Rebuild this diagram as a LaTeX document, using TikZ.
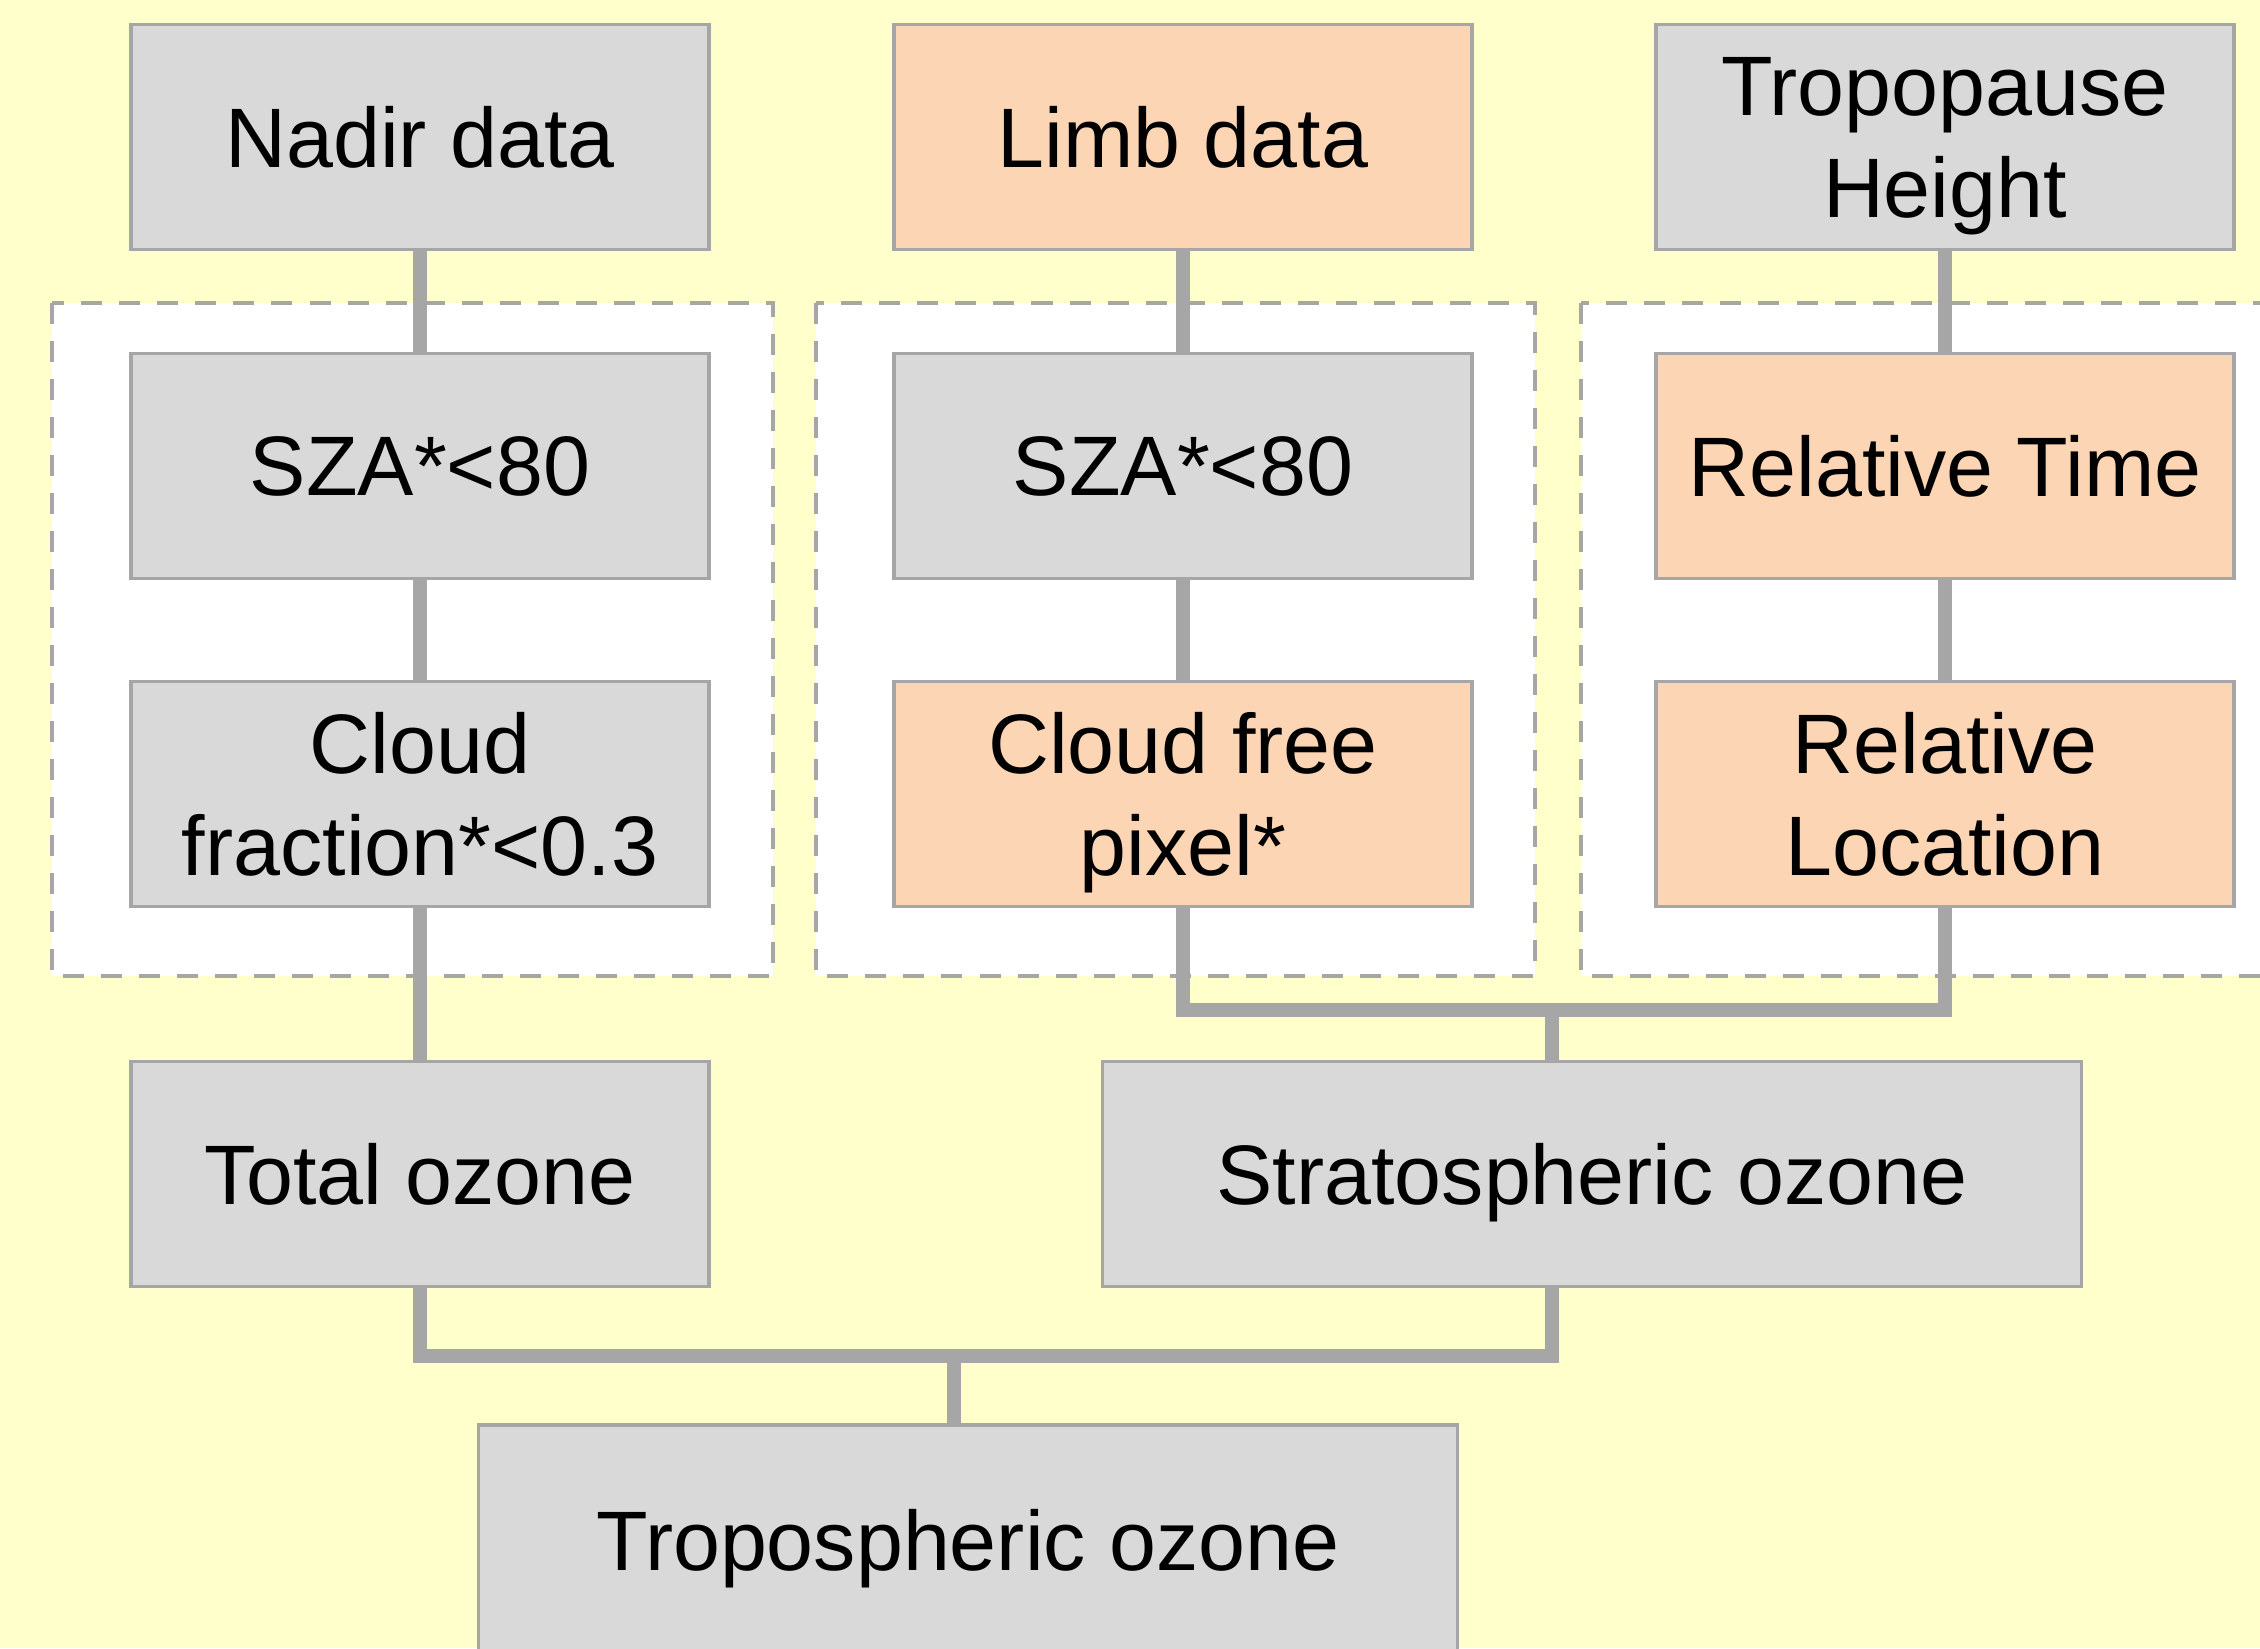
\documentclass[tikz,border=0pt]{standalone}
\usepackage{fontspec}
\setmainfont{Liberation Sans}
\definecolor{bgyellow}{HTML}{FFFFCC}
\definecolor{boxgray}{HTML}{D9D9D9}
\definecolor{boxtan}{HTML}{FCD5B4}
\definecolor{edgegray}{HTML}{A6A6A6}
\begin{document}
\begin{tikzpicture}[x=0.01cm,y=-0.01cm,
  box/.style={draw=edgegray,line width=1pt,fill=boxgray,align=center,
    minimum width=5.78cm,minimum height=2.25cm,inner sep=0pt,text depth=0pt,
    font=\fontsize{24}{29}\selectfont},
  tanbox/.style={box,fill=boxtan},
  widebox/.style={box,minimum width=9.78cm},
  group/.style={draw=edgegray,line width=1.1pt,fill=white,dash pattern=on 0.21cm off 0.17cm},
  link/.style={draw=edgegray,line width=4pt}]
\useasboundingbox[fill=bgyellow] (0,0) rectangle (2260,1648);
\draw[group] (52,303) rectangle (773,976);
\draw[group] (816,303) rectangle (1535,976);
\draw[group] (1581,303) rectangle (2300,976);
\node[box] (nadir) at (420,137) {Nadir data};
\node[tanbox] (limb) at (1183,137) {Limb data};
\node[box] (tph) at (1945,137) {Tropopause\\Height};
\node[box] (sza1) at (420,466) {SZA*<80};
\node[box] (sza2) at (1183,466) {SZA*<80};
\node[tanbox] (rtime) at (1945,466) {Relative Time};
\node[box] (cfrac) at (420,794) {Cloud\\fraction*<0.3};
\node[tanbox] (cfree) at (1183,794) {Cloud free\\pixel*};
\node[tanbox] (rloc) at (1945,794) {Relative\\Location};
\node[box] (total) at (420,1174) {Total ozone};
\node[widebox] (strat) at (1592,1174) {Stratospheric ozone};
\node[widebox,minimum height=2.3cm] (tropo) at (968,1540) {Tropospheric ozone};
\coordinate (jn1) at (1552,1010);
\coordinate (jn2) at (954,1356);
\draw[link] (nadir) -- (sza1);
\draw[link] (sza1) -- (cfrac);
\draw[link] (cfrac) -- (total);
\draw[link] (limb) -- (sza2);
\draw[link] (sza2) -- (cfree);
\draw[link] (tph) -- (rtime);
\draw[link] (rtime) -- (rloc);
\draw[link] (cfree.south) |- (jn1) -| (rloc.south);
\draw[link] (jn1) -- (jn1 |- strat.north);
\draw[link] (total.south) |- (jn2) -| (strat.south -| jn1);
\draw[link] (jn2) -- (jn2 |- tropo.north);
\end{tikzpicture}
\end{document}
